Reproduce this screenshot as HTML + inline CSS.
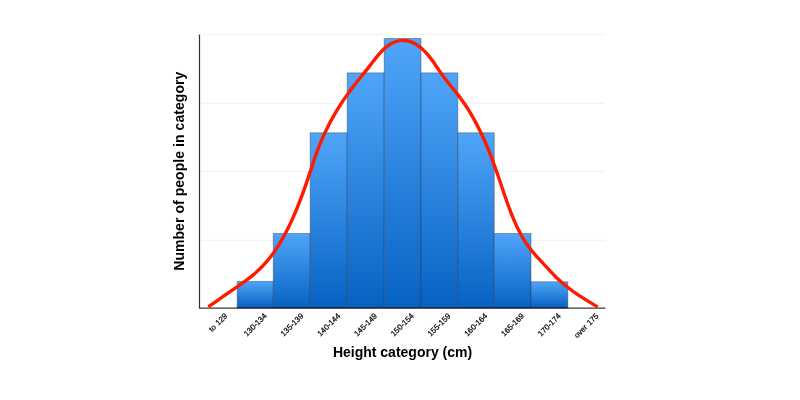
<!DOCTYPE html>
<html><head><meta charset="utf-8"><title>Height distribution</title>
<style>
html,body{margin:0;padding:0;background:#fff;}
body{width:800px;height:400px;overflow:hidden;font-family:"Liberation Sans",sans-serif;}
svg{display:block}
text{font-family:"Liberation Sans",sans-serif;fill:#000}
</style></head><body>
<svg width="800" height="400" viewBox="0 0 800 400">
<defs><linearGradient id="g" x1="0" y1="0" x2="0" y2="1"><stop offset="0" stop-color="#50a5f9"/><stop offset="1" stop-color="#0662c2"/></linearGradient></defs>
<rect width="800" height="400" fill="#fff"/>
<line x1="200" x2="605" y1="34.7" y2="34.7" stroke="#f0f0f0" stroke-width="1"/>
<line x1="200" x2="605" y1="103.3" y2="103.3" stroke="#f0f0f0" stroke-width="1"/>
<line x1="200" x2="605" y1="171.4" y2="171.4" stroke="#f0f0f0" stroke-width="1"/>
<line x1="200" x2="605" y1="240.2" y2="240.2" stroke="#f0f0f0" stroke-width="1"/>
<rect x="237.20" y="281.40" width="36.10" height="26.10" fill="url(#g)" stroke="#2a3448" stroke-opacity="0.42" stroke-width="1"/>
<rect x="273.30" y="233.50" width="36.90" height="74.00" fill="url(#g)" stroke="#2a3448" stroke-opacity="0.42" stroke-width="1"/>
<rect x="310.20" y="132.80" width="37.00" height="174.70" fill="url(#g)" stroke="#2a3448" stroke-opacity="0.42" stroke-width="1"/>
<rect x="347.20" y="72.90" width="37.00" height="234.60" fill="url(#g)" stroke="#2a3448" stroke-opacity="0.42" stroke-width="1"/>
<rect x="384.20" y="38.50" width="36.80" height="269.00" fill="url(#g)" stroke="#2a3448" stroke-opacity="0.42" stroke-width="1"/>
<rect x="421.00" y="72.90" width="36.80" height="234.60" fill="url(#g)" stroke="#2a3448" stroke-opacity="0.42" stroke-width="1"/>
<rect x="457.80" y="132.80" width="36.40" height="174.70" fill="url(#g)" stroke="#2a3448" stroke-opacity="0.42" stroke-width="1"/>
<rect x="494.20" y="233.50" width="36.80" height="74.00" fill="url(#g)" stroke="#2a3448" stroke-opacity="0.42" stroke-width="1"/>
<rect x="531.00" y="281.80" width="36.80" height="25.70" fill="url(#g)" stroke="#2a3448" stroke-opacity="0.42" stroke-width="1"/>
<line x1="199.5" x2="199.5" y1="34.5" y2="308" stroke="#333" stroke-width="1.2"/>
<line x1="199" x2="605.5" y1="308.1" y2="308.1" stroke="#383838" stroke-width="1.25"/>
<line x1="236.80" x2="568.20" y1="307.7" y2="307.7" stroke="#03204f" stroke-width="1.1"/>
<path d="M208.30 306.80 C210.79 305.07 218.76 299.54 223.24 296.44 C227.72 293.34 231.59 290.72 235.18 288.22 C238.77 285.72 241.85 283.57 244.76 281.43 C247.67 279.28 250.19 277.37 252.62 275.36 C255.06 273.35 257.26 271.38 259.38 269.35 C261.50 267.31 263.46 265.25 265.34 263.15 C267.21 261.05 268.95 258.91 270.63 256.75 C272.31 254.58 273.87 252.38 275.39 250.14 C276.92 247.90 278.36 245.63 279.76 243.32 C281.17 241.01 282.52 238.67 283.83 236.29 C285.14 233.91 286.40 231.49 287.63 229.04 C288.86 226.60 290.05 224.11 291.22 221.60 C292.38 219.08 293.51 216.53 294.61 213.95 C295.72 211.38 296.80 208.76 297.86 206.13 C298.92 203.49 299.96 200.83 300.97 198.15 C301.99 195.48 302.98 192.77 303.95 190.07 C304.92 187.36 305.87 184.64 306.80 181.91 C307.73 179.19 308.64 176.45 309.55 173.73 C310.45 171.01 311.34 168.28 312.25 165.58 C313.15 162.87 314.05 160.17 314.98 157.51 C315.91 154.85 316.85 152.20 317.83 149.59 C318.82 146.99 319.83 144.41 320.88 141.88 C321.93 139.35 323.02 136.86 324.15 134.41 C325.27 131.95 326.44 129.54 327.63 127.16 C328.82 124.78 330.05 122.44 331.30 120.14 C332.56 117.83 333.85 115.57 335.16 113.34 C336.47 111.11 337.81 108.91 339.17 106.76 C340.53 104.61 341.91 102.50 343.29 100.43 C344.68 98.37 346.09 96.35 347.49 94.38 C348.89 92.42 350.30 90.49 351.71 88.63 C353.11 86.76 354.51 84.95 355.90 83.19 C357.29 81.42 358.67 79.70 360.02 78.02 C361.37 76.34 362.71 74.70 364.01 73.09 C365.31 71.48 366.59 69.90 367.82 68.35 C369.06 66.79 370.24 65.25 371.40 63.75 C372.57 62.25 373.69 60.77 374.81 59.35 C375.93 57.92 377.02 56.53 378.13 55.22 C379.24 53.90 380.34 52.63 381.48 51.45 C382.62 50.27 383.77 49.15 384.96 48.13 C386.15 47.11 387.37 46.16 388.60 45.32 C389.83 44.49 391.10 43.73 392.37 43.10 C393.64 42.46 394.93 41.92 396.21 41.50 C397.50 41.09 398.80 40.78 400.10 40.60 C401.40 40.42 402.69 40.37 403.99 40.43 C405.28 40.48 406.57 40.66 407.84 40.95 C409.12 41.23 410.39 41.63 411.65 42.13 C412.90 42.63 414.15 43.24 415.38 43.93 C416.60 44.63 417.81 45.44 419.00 46.32 C420.19 47.20 421.36 48.19 422.52 49.24 C423.67 50.28 424.80 51.42 425.91 52.62 C427.03 53.81 428.12 55.09 429.19 56.41 C430.26 57.73 431.31 59.12 432.35 60.55 C433.39 61.97 434.40 63.46 435.43 64.96 C436.47 66.46 437.49 68.01 438.55 69.57 C439.61 71.12 440.68 72.71 441.80 74.29 C442.93 75.87 444.08 77.46 445.29 79.04 C446.50 80.62 447.76 82.20 449.05 83.80 C450.33 85.40 451.66 87.00 452.99 88.64 C454.32 90.29 455.68 91.94 457.02 93.66 C458.36 95.38 459.72 97.13 461.04 98.94 C462.37 100.76 463.68 102.63 464.97 104.56 C466.26 106.48 467.54 108.46 468.79 110.48 C470.04 112.51 471.27 114.58 472.48 116.69 C473.68 118.79 474.87 120.95 476.03 123.13 C477.19 125.31 478.33 127.52 479.44 129.77 C480.55 132.01 481.64 134.28 482.70 136.58 C483.76 138.88 484.80 141.21 485.82 143.56 C486.83 145.91 487.82 148.28 488.79 150.68 C489.76 153.07 490.70 155.49 491.63 157.92 C492.55 160.35 493.45 162.80 494.34 165.26 C495.23 167.72 496.10 170.19 496.96 172.67 C497.82 175.14 498.67 177.63 499.51 180.11 C500.36 182.59 501.19 185.08 502.03 187.55 C502.87 190.03 503.70 192.50 504.55 194.96 C505.40 197.42 506.24 199.87 507.11 202.30 C507.98 204.73 508.86 207.15 509.77 209.54 C510.67 211.93 511.59 214.31 512.55 216.66 C513.51 219.00 514.50 221.33 515.52 223.60 C516.55 225.88 517.60 228.14 518.71 230.33 C519.81 232.53 520.96 234.68 522.15 236.77 C523.35 238.85 524.59 240.89 525.89 242.85 C527.19 244.81 528.54 246.67 529.96 248.51 C531.38 250.35 532.85 252.10 534.39 253.88 C535.93 255.67 537.53 257.40 539.19 259.22 C540.86 261.04 542.59 262.85 544.40 264.79 C546.20 266.73 547.98 268.70 550.02 270.86 C552.06 273.02 554.01 275.25 556.62 277.74 C559.23 280.23 561.99 282.85 565.70 285.79 C569.40 288.74 573.51 291.88 578.83 295.41 C584.15 298.95 594.48 305.05 597.61 306.98" fill="none" stroke="#ff1a00" stroke-width="3.4" stroke-linecap="butt" stroke-linejoin="round"/>
<text x="227.78" y="316.50" font-size="7.8" word-spacing="0.7" text-anchor="end" stroke="#000" stroke-width="0.22" transform="rotate(-45 227.78 316.50)">to 129</text>
<text x="267.24" y="316.50" font-size="7.8" word-spacing="0.7" text-anchor="end" stroke="#000" stroke-width="0.22" transform="rotate(-45 267.24 316.50)">130-134</text>
<text x="304.00" y="316.50" font-size="7.8" word-spacing="0.7" text-anchor="end" stroke="#000" stroke-width="0.22" transform="rotate(-45 304.00 316.50)">135-139</text>
<text x="340.76" y="316.50" font-size="7.8" word-spacing="0.7" text-anchor="end" stroke="#000" stroke-width="0.22" transform="rotate(-45 340.76 316.50)">140-144</text>
<text x="377.52" y="316.50" font-size="7.8" word-spacing="0.7" text-anchor="end" stroke="#000" stroke-width="0.22" transform="rotate(-45 377.52 316.50)">145-149</text>
<text x="414.28" y="316.50" font-size="7.8" word-spacing="0.7" text-anchor="end" stroke="#000" stroke-width="0.22" transform="rotate(-45 414.28 316.50)">150-154</text>
<text x="451.04" y="316.50" font-size="7.8" word-spacing="0.7" text-anchor="end" stroke="#000" stroke-width="0.22" transform="rotate(-45 451.04 316.50)">155-159</text>
<text x="487.80" y="316.50" font-size="7.8" word-spacing="0.7" text-anchor="end" stroke="#000" stroke-width="0.22" transform="rotate(-45 487.80 316.50)">160-164</text>
<text x="524.56" y="316.50" font-size="7.8" word-spacing="0.7" text-anchor="end" stroke="#000" stroke-width="0.22" transform="rotate(-45 524.56 316.50)">165-169</text>
<text x="561.32" y="316.50" font-size="7.8" word-spacing="0.7" text-anchor="end" stroke="#000" stroke-width="0.22" transform="rotate(-45 561.32 316.50)">170-174</text>
<text x="599.08" y="316.50" font-size="7.8" word-spacing="0.7" text-anchor="end" stroke="#000" stroke-width="0.22" transform="rotate(-45 599.08 316.50)">over 175</text>
<text x="402.5" y="357" font-size="14" font-weight="bold" text-anchor="middle">Height category (cm)</text>
<text x="184" y="171.2" font-size="14" font-weight="bold" text-anchor="middle" letter-spacing="0.055" transform="rotate(-90 184 171.2)">Number of people in category</text>
</svg></body></html>
